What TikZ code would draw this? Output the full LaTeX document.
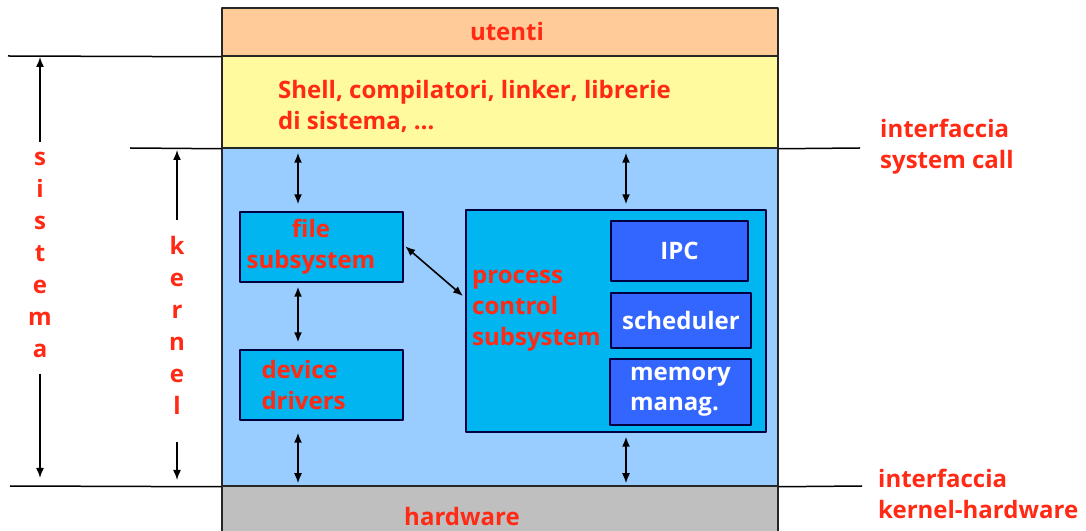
\documentclass[tikz,border=0pt]{standalone}
\usepackage{fontspec}
\setmainfont{Open Sans}
\usepackage{tikz}
\usetikzlibrary{arrows.meta,positioning}

\begin{document}
\begin{tikzpicture}[>={Latex[length=10bp,width=8bp]},join=bevel,
  layer/.style={draw=black!85,line width=1.5bp,rectangle,inner sep=0pt,minimum width=556bp},
  sub/.style={draw=black!75!blue,line width=1.4bp,rectangle,inner sep=0pt,fill=c4},
  mod/.style={draw=black!75!blue,line width=1.4bp,rectangle,inner sep=0pt,fill=c5,text=white,
    font=\bfseries\fontsize{24bp}{30bp}\selectfont},
  lbl/.style={text=cr,font=\bfseries\fontsize{24bp}{31bp}\selectfont,inner sep=0pt,align=left},
  vlbl/.style={text=cr,font=\bfseries\fontsize{24bp}{32bp}\selectfont,inner sep=0pt,align=center},
  biarr/.style={<->,line width=1.6bp},
  side/.style={line width=1.5bp}]
%%
%%
\definecolor{c1}{rgb}{1.00,0.80,0.60}%
\definecolor{c2}{rgb}{1.00,0.98,0.62}%
\definecolor{c3}{rgb}{0.60,0.80,1.00}%
\definecolor{c4}{rgb}{0.00,0.71,0.94}%
\definecolor{c5}{rgb}{0.20,0.40,1.00}%
\definecolor{c6}{rgb}{0.75,0.75,0.75}%
\definecolor{cr}{rgb}{1.00,0.16,0.08}%
%
\useasboundingbox (0bp,0bp) rectangle (1086bp,531bp);
%% layers
  \node (ut) at (500bp,499bp) [layer,fill=c1,minimum height=48bp] {};
  \node (sh) at (500bp,429bp) [layer,fill=c2,minimum height=92bp] {};
  \node (ke) at (500bp,214bp) [layer,fill=c3,minimum height=338bp] {};
  \node (hw) at (500bp,21bp) [layer,fill=c6,minimum height=48bp] {};

  \node (utt) at (507bp,499bp) [lbl] {utenti};
  \node (sht) at (278bp,425bp) [lbl,anchor=west] {Shell, compilatori, linker, librerie\\di sistema, \dots};
  \node (hwt) at (462bp,15bp) [lbl] {hardware};

%% kernel
  \node (fs) at (321.5bp,284bp) [sub,minimum width=163bp,minimum height=70bp] {};
  \node (fst) at (311bp,284bp) [lbl,align=center] {file\\subsystem};
  \node (dd) at (321.5bp,146bp) [sub,minimum width=163bp,minimum height=70bp] {};
  \node (ddt) [lbl,anchor=west] at ([xshift=22bp]dd.west) {device\\drivers};
  \node (pc) at (616bp,210bp) [sub,minimum width=300bp,minimum height=222bp] {};
  \node (pct) at (472bp,220bp) [lbl,anchor=west] {process\\control\\subsystem};
  \node (ipc) at (679.5bp,280bp) [mod,minimum width=137bp,minimum height=60bp] {IPC};
  \node (sc) at (681bp,210.5bp) [mod,minimum width=140bp,minimum height=55bp] {scheduler};
  \node (mm) at (680.5bp,139bp) [mod,minimum width=141bp,minimum height=66bp,align=left] {memory\\manag.};

  \draw[biarr,shorten <=4bp,shorten >=7bp] ([xshift=-23.5bp]fs.north |- sh.south) -- ([xshift=-23.5bp]fs.north);
  \draw[biarr,shorten <=4bp,shorten >=5bp] ([xshift=10bp]pc.north |- sh.south) -- ([xshift=10bp]pc.north);
  \draw[biarr,shorten <=4bp,shorten >=7bp] ([xshift=-23.5bp]fs.south) -- ([xshift=-23.5bp]dd.north);
  \draw[biarr,shorten <=12bp,shorten >=2bp] ([xshift=-23.5bp]dd.south) -- ([xshift=-23.5bp]dd.south |- hw.north);
  \draw[biarr,shorten <=4bp,shorten >=2bp] ([xshift=10bp]pc.south) -- ([xshift=10bp]pc.south |- hw.north);
  \draw[biarr,shorten <=2bp,shorten >=3bp] ([yshift=2bp]fs.east) -- ([yshift=23bp]pc.west);

%% interfaces
  \coordinate (l1) at (8bp,475bp);
  \coordinate (l2) at (130bp,383bp);
  \coordinate (l3) at (10bp,45bp);
  \coordinate (r1) at (860bp,383bp);
  \coordinate (r2) at (862bp,45bp);
  \draw[side] (l1) -- (ut.south west);
  \draw[side] (l2) -- (sh.south west);
  \draw[side] (sh.south east) -- (r1);
  \draw[side] (l3) -- (ke.south west);
  \draw[side] (ke.south east) -- (r2);

  \node (isc) at (880bp,384bp) [lbl,anchor=west] {interfaccia\\system call};
  \node (ikh) at (878bp,37bp) [lbl,anchor=west] {interfaccia\\kernel-hardware};

%% sistema / kernel
  \node (sis) at (40bp,276bp) [vlbl] {s\\i\\s\\t\\e\\m\\a};
  \node (ker) at (177bp,206bp) [vlbl] {k\\e\\r\\n\\e\\l};

  \draw[->,side,shorten >=1bp] ([yshift=10bp]sis.north) -- (sis.north |- l1);
  \draw[->,side,shorten >=8bp] ([yshift=-16bp]sis.south) -- (sis.south |- l3);
  \draw[->,side,shorten >=2bp] ([yshift=16bp]ker.north) -- (ker.north |- l2);
  \draw[->,side,shorten >=6bp] ([yshift=-28bp]ker.south) -- (ker.south |- l3);
%
\end{tikzpicture}
\end{document}
